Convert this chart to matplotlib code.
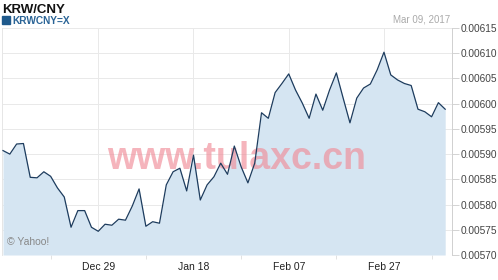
import numpy as np
import matplotlib
matplotlib.use("Agg")
import matplotlib.pyplot as plt

# KRW/CNY closing rates, one point per trading day
rates = [0.005907, 0.005900, 0.005920, 0.005921, 0.005854, 0.005853, 0.005865,
         0.005856, 0.005833, 0.005815, 0.005755, 0.005788, 0.005788, 0.005755,
         0.005747, 0.005761, 0.005759, 0.005771, 0.005769, 0.005797, 0.005831,
         0.005757, 0.005766, 0.005763, 0.005839, 0.005865, 0.005872, 0.005827,
         0.005898, 0.005809, 0.005839, 0.005855, 0.005882, 0.005860, 0.005916,
         0.005875, 0.005843, 0.005882, 0.005982, 0.005971, 0.006022, 0.006040,
         0.006059, 0.006027, 0.006001, 0.005971, 0.006019, 0.005987, 0.006027,
         0.006061, 0.006011, 0.005962, 0.006011, 0.006031, 0.006039, 0.006067,
         0.006102, 0.006057, 0.006047, 0.006040, 0.006036, 0.005989, 0.005984,
         0.005974, 0.006002, 0.005989]
tick_idx = [14, 28, 42, 56]
tick_labels = ['Dec 29', 'Jan 18', 'Feb 07', 'Feb 27']
minor_idx = [7, 21, 35, 49, 63]
y_ticks = [0.00570, 0.00575, 0.00580, 0.00585, 0.00590, 0.00595,
           0.00600, 0.00605, 0.00610, 0.00615]

plt.rcParams['font.family'] = ['Liberation Sans', 'DejaVu Sans']

x = np.arange(len(rates))
ymin, ymax = 0.00570, 0.00615

fig = plt.figure(figsize=(4.98, 2.80), dpi=100)
ax = fig.add_axes([2/498, 25/280, 450/498, 227/280])

ax.fill_between(x, rates, ymin, color='#d5e5f2', lw=0, zorder=1)
ax.plot(x, rates, color='#1d3c5e', lw=0.9, zorder=3)

ax.set_xlim(-0.15, 66.0)
ax.set_ylim(ymin, ymax)

ax.yaxis.tick_right()
ax.set_yticks(y_ticks)
ax.set_yticklabels(['%.5f' % v for v in y_ticks])
ax.set_xticks(tick_idx)
ax.set_xticklabels(tick_labels)
ax.set_xticks(minor_idx, minor=True)
ax.tick_params(axis='y', length=5, width=0.6, color='#cccccc', labelsize=7.3,
               labelcolor='#444444', pad=1)
ax.tick_params(axis='x', which='major', length=0, labelsize=7.5,
               labelcolor='#222222', pad=5)
ax.tick_params(axis='x', which='minor', length=3, width=0.6, color='#dddddd')

ax.grid(True, color='#e9e9e9', lw=0.7, zorder=0)
ax.set_axisbelow(True)
for s in ['top', 'bottom']:
    ax.spines[s].set_visible(False)
ax.spines['left'].set_color('#e6e6e6')
ax.spines['left'].set_linewidth(0.7)
ax.spines['right'].set_color('#d0d0d0')
ax.spines['right'].set_linewidth(0.7)

ax.text(0.012, 0.045, '\u00a9 Yahoo!', transform=ax.transAxes, fontsize=7.5,
        color='#888888', zorder=4)
ax.text(0.522, 0.425, 'www.tulaxc.cn', transform=ax.transAxes, fontsize=27,
        fontweight='bold', color='#f08c98', alpha=0.65, ha='center',
        va='center', zorder=2)

fig.text(2/498, 1 - 13/280, 'KRW/CNY', fontsize=9.5, fontweight='bold',
         color='#111111')
fig.patches.append(plt.Rectangle((2/498, 1 - 24/280), 8/498, 8/280,
                                 transform=fig.transFigure, color='#1f5a8c'))
fig.text(12/498, 1 - 24/280, 'KRWCNY=X', fontsize=7.3, fontweight='bold',
         color='#2a6496')
fig.text(450/498, 1 - 23/280, 'Mar 09, 2017', fontsize=7, color='#aaaaaa',
         ha='right')

fig.savefig('out.png', dpi=100)
